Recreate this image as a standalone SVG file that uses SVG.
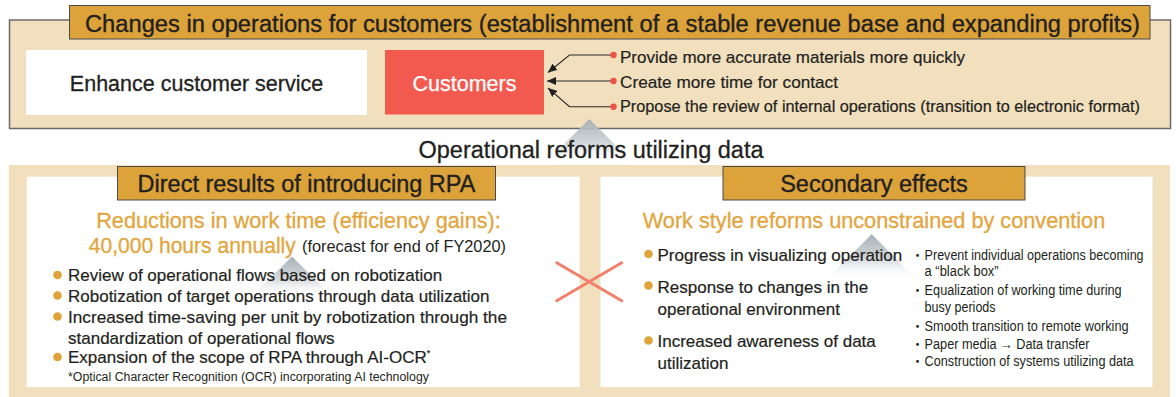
<svg xmlns="http://www.w3.org/2000/svg" width="1176" height="397" viewBox="0 0 1176 397">
<style>
text{font-family:"Liberation Sans",Arial,sans-serif;fill:#231f20}
.w{stroke:#231f20;stroke-width:0.3}
.hdr{fill:#dca33b;stroke:#4a4a4a;stroke-width:1}
.h1{font-size:23.5px;text-anchor:middle;stroke:#231f20;stroke-width:0.35}
.it{font-size:17px;stroke:#231f20;stroke-width:0.2}
.or{fill:#e1a63e;font-size:21.7px;stroke:#e1a63e;stroke-width:0.3}
.sm{font-size:14px}
.dot{fill:#e0a33a}
.rdot{fill:#ee5548}
.conn{fill:none;stroke:#2b2b2b;stroke-width:1.1}
.x{stroke:#f2806a;stroke-width:3;stroke-linecap:round}
.mid{font-family:"Liberation Sans","Noto Sans CJK JP",sans-serif;font-size:13px}
</style>
<defs>
<marker id="ah" markerUnits="userSpaceOnUse" markerWidth="10" markerHeight="8" refX="9" refY="4" orient="auto">
<path d="M0,0 L9,4 L0,8 z" fill="#1f1f1f"/>
</marker>
<linearGradient id="tg" x1="0" y1="0" x2="0" y2="1">
<stop offset="0" stop-color="#a6b0b6"/>
<stop offset="0.55" stop-color="#c7ced2" stop-opacity="0.8"/>
<stop offset="1" stop-color="#ffffff" stop-opacity="0"/>
</linearGradient>
</defs>

<g id="top-frame">
<rect x="9.5" y="20" width="1161" height="108.5" fill="#f2dfbd" stroke="#6a6a6a" stroke-width="1.5"/>
</g>
<g id="top-header">
<rect class="hdr" x="69.5" y="5.5" width="1080.5" height="33.5"/>
<text class="h1" x="612.5" y="31.5" textLength="1055" lengthAdjust="spacingAndGlyphs">Changes in operations for customers (establishment of a stable revenue base and expanding profits)</text>
</g>
<g id="node-enhance">
<rect x="26" y="50" width="341" height="65" fill="#ffffff"/>
<text class="w" x="196.5" y="90.7" font-size="21.5px" text-anchor="middle">Enhance customer service</text>
</g>
<g id="node-customers">
<rect x="385" y="50" width="159" height="64.5" fill="#f25a4f"/>
<text x="464.5" y="91" font-size="21.5px" text-anchor="middle" style="fill:#ffffff;stroke:#ffffff;stroke-width:0.25">Customers</text>
</g>
<g id="connectors">
<path class="conn" d="M613,55 H569.5 L548,72.5" marker-end="url(#ah)"/>
<path class="conn" d="M613,81 H547" marker-end="url(#ah)"/>
<path class="conn" d="M613,106.7 H569.5 L548,88" marker-end="url(#ah)"/>
<circle class="rdot" cx="613.5" cy="55" r="3.2"/>
<circle class="rdot" cx="613.5" cy="81" r="3.2"/>
<circle class="rdot" cx="613.5" cy="106.7" r="3.2"/>
</g>
<g id="node-items">
<text class="it" x="620" y="63.3" textLength="345" lengthAdjust="spacingAndGlyphs">Provide more accurate materials more quickly</text>
<text class="it" x="620" y="88.3" textLength="218" lengthAdjust="spacingAndGlyphs">Create more time for contact</text>
<text class="it" x="620" y="112" textLength="520" lengthAdjust="spacingAndGlyphs">Propose the review of internal operations (transition to electronic format)</text>
</g>

<g id="lower-frame">
<rect x="9" y="165" width="1161" height="232" fill="#f2dfbd"/>
<rect x="26.7" y="176.7" width="553" height="210.5" fill="#ffffff"/>
<rect x="600.5" y="176.7" width="552" height="210.5" fill="#ffffff"/>
</g>

<g id="up-arrow-top">
<polygon points="589.3,119 633.5,163 545,163" fill="url(#tg)"/>
</g>
<g id="label-middle">
<text class="w" x="591" y="158" font-size="23.5px" text-anchor="middle" textLength="345" lengthAdjust="spacingAndGlyphs">Operational reforms utilizing data</text>
</g>

<g id="panel-left">
<polygon points="292,256.5 333,297 251,297" fill="url(#tg)"/>
<rect class="hdr" x="117.5" y="166.5" width="378" height="33.5"/>
<text class="h1" x="306.5" y="192">Direct results of introducing RPA</text>
<text class="or" x="298.5" y="227.5" text-anchor="middle">Reductions in work time (efficiency gains):</text>
<text class="or" x="88.8" y="252.5" textLength="207" lengthAdjust="spacingAndGlyphs">40,000 hours annually</text>
<text x="302" y="252" font-size="16px" textLength="204" lengthAdjust="spacingAndGlyphs">(forecast for end of FY2020)</text>
<circle class="dot" cx="57.5" cy="275" r="4.3"/>
<circle class="dot" cx="57.5" cy="295.5" r="4.3"/>
<circle class="dot" cx="57.5" cy="316.5" r="4.3"/>
<circle class="dot" cx="57.5" cy="357" r="4.3"/>
<text class="it" x="68" y="281">Review of operational flows based on robotization</text>
<text class="it" x="68" y="301.5">Robotization of target operations through data utilization</text>
<text class="it" x="68" y="322.5" textLength="439" lengthAdjust="spacingAndGlyphs">Increased time-saving per unit by robotization through the</text>
<text class="it" x="68" y="343.5">standardization of operational flows</text>
<text class="it" x="68" y="363">Expansion of the scope of RPA through AI-OCR<tspan font-size="9px" dy="-7">*</tspan></text>
<text x="68" y="381" font-size="12.5px" textLength="361" lengthAdjust="spacingAndGlyphs">*Optical Character Recognition (OCR) incorporating AI technology</text>
</g>

<g id="cross">
<line class="x" x1="556.7" y1="262.7" x2="621.7" y2="300.7"/>
<line class="x" x1="556.7" y1="300.7" x2="621.7" y2="262.7"/>
</g>

<g id="panel-right">
<polygon points="871.7,234.3 916.7,279 826.7,279" fill="url(#tg)"/>
<rect class="hdr" x="723" y="166.5" width="302" height="33.5"/>
<text class="h1" x="874" y="192">Secondary effects</text>
<text class="or" x="874" y="227.5" text-anchor="middle">Work style reforms unconstrained by convention</text>
<circle class="dot" cx="648.5" cy="254" r="4.3"/>
<circle class="dot" cx="648.5" cy="285.5" r="4.3"/>
<circle class="dot" cx="648.5" cy="340.5" r="4.3"/>
<text class="it" x="657.5" y="261">Progress in visualizing operation</text>
<text class="it" x="657.5" y="293">Response to changes in the</text>
<text class="it" x="657.5" y="314.5">operational environment</text>
<text class="it" x="657.5" y="347">Increased awareness of data</text>
<text class="it" x="657.5" y="368.5">utilization</text>
<text class="mid" x="911" y="259.5">・</text>
<text class="mid" x="911" y="295">・</text>
<text class="mid" x="911" y="331">・</text>
<text class="mid" x="911" y="348.5">・</text>
<text class="mid" x="911" y="366">・</text>
<text class="sm" x="924.6" y="259.5" textLength="219" lengthAdjust="spacingAndGlyphs">Prevent individual operations becoming</text>
<text class="sm" x="924.6" y="276" textLength="74" lengthAdjust="spacingAndGlyphs">a “black box”</text>
<text class="sm" x="924.6" y="295" textLength="197" lengthAdjust="spacingAndGlyphs">Equalization of working time during</text>
<text class="sm" x="924.6" y="311.5" textLength="71" lengthAdjust="spacingAndGlyphs">busy periods</text>
<text class="sm" x="924.6" y="331" textLength="204" lengthAdjust="spacingAndGlyphs">Smooth transition to remote working</text>
<text class="sm" x="924.6" y="348.5" textLength="165" lengthAdjust="spacingAndGlyphs">Paper media → Data transfer</text>
<text class="sm" x="924.6" y="366" textLength="209" lengthAdjust="spacingAndGlyphs">Construction of systems utilizing data</text>
</g>
</svg>
